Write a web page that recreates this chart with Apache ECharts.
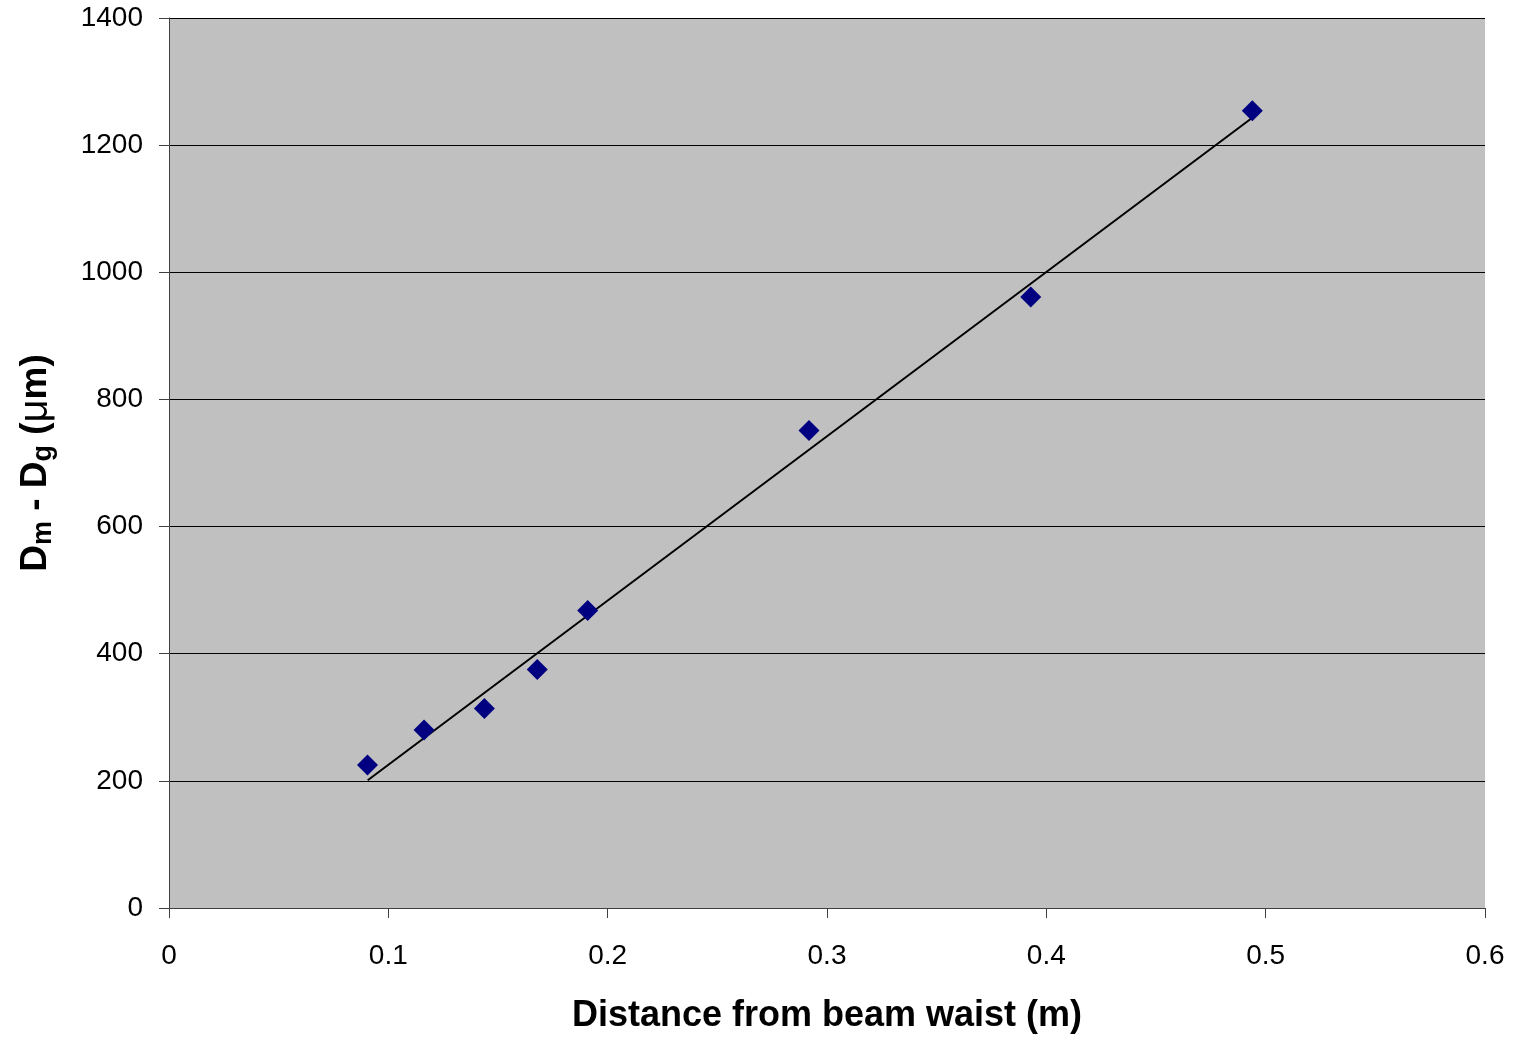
<!DOCTYPE html>
<html>
<head>
<meta charset="utf-8">
<script src="https://cdn.jsdelivr.net/npm/echarts@6/dist/echarts.min.js"></script>
<style>
html,body{margin:0;padding:0;background:#fff;}
#c{width:1514px;height:1039px;}
</style>
</head>
<body>
<div id="c"></div>
<script>
// Measured points: distance (m) vs Dm - Dg (µm)
var distances = [0.0905, 0.1163, 0.1438, 0.1679, 0.1909, 0.2918, 0.3929, 0.4939];
var diffs = [225, 280, 314, 375, 468, 751, 961, 1254];
// Trendline endpoints
var trendX = [0.0906, 0.4939];
var trendY = [201, 1243];
var xTicks = [0, 0.1, 0.2, 0.3, 0.4, 0.5, 0.6];
var yTicks = [0, 200, 400, 600, 800, 1000, 1200, 1400];

var chart = echarts.init(document.getElementById('c'));
var font = '"Liberation Sans", Arial, sans-serif';
chart.setOption({
  animation: false,
  grid: {left: 169, top: 18, right: 29, bottom: 130, show: true, backgroundColor: '#c0c0c0', borderWidth: 0},
  xAxis: {
    type: 'value', min: 0, max: 0.6, interval: 0.1,
    name: 'Distance from beam waist (m)', nameLocation: 'middle', nameGap: 90,
    nameTextStyle: {fontFamily: font, fontWeight: 'bold', fontSize: 36, color: '#000'},
    axisLine: {show: true, onZero: false, lineStyle: {color: '#404040', width: 1}},
    axisTick: {show: true, length: 10, lineStyle: {color: '#404040'}},
    axisLabel: {margin: 34, fontFamily: font, fontSize: 28, color: '#000',
      formatter: function(v){ return String(Math.round(v*10)/10); }},
    splitLine: {show: false}
  },
  yAxis: {
    type: 'value', min: 0, max: 1400, interval: 200,
    name: '{b|D}{s|m}{b| - D}{s|g}{b| (}{m|μ}{b|m)}', nameLocation: 'middle', nameGap: 112,
    nameTextStyle: {
      fontFamily: font, fontSize: 37, color: '#000',
      rich: {
        b: {fontFamily: font, fontWeight: 'bold', fontSize: 37, color: '#000'},
        s: {fontFamily: font, fontWeight: 'bold', fontSize: 27, color: '#000', verticalAlign: 'bottom', padding: [16, 0, 0, 0]},
        m: {fontFamily: font, fontWeight: 'normal', fontSize: 40, color: '#000'}
      }
    },
    axisLine: {show: true, onZero: false, lineStyle: {color: '#404040', width: 1}},
    axisTick: {show: true, length: 10, lineStyle: {color: '#404040'}},
    axisLabel: {margin: 26, fontFamily: font, fontSize: 28, color: '#000',
      formatter: function(v){ return String(v); }},
    splitLine: {show: true, lineStyle: {color: '#000', width: 1}}
  },
  series: [
    {
      type: 'line',
      data: trendX.map(function(x, i){ return [x, trendY[i]]; }),
      showSymbol: false, symbol: 'none',
      lineStyle: {color: '#000', width: 2},
      z: 2
    },
    {
      type: 'scatter',
      data: distances.map(function(x, i){ return [x, diffs[i]]; }),
      symbol: 'diamond', symbolSize: 21,
      itemStyle: {color: '#000080', opacity: 1},
      z: 3
    }
  ]
});
</script>
</body>
</html>
